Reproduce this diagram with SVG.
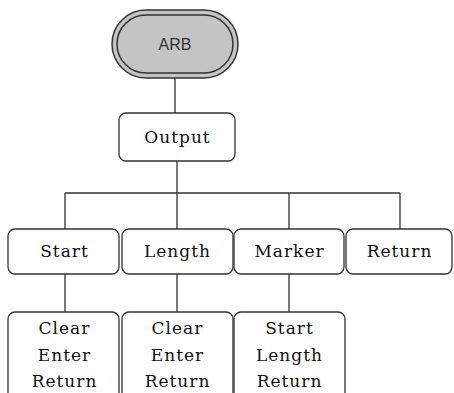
<svg xmlns="http://www.w3.org/2000/svg" width="454" height="393" viewBox="0 0 454 393">
<style>
.box{fill:#fff;stroke:#333;stroke-width:1.3}
.ln{stroke:#333;stroke-width:1.3;fill:none}
.t{font-family:'DejaVu Serif',serif;font-size:17px;letter-spacing:1px;fill:#111;text-anchor:middle}
.s{font-family:'Liberation Sans',Arial,sans-serif;font-size:16px;fill:#333;text-anchor:middle}
</style>
<rect width="454" height="393" fill="#fff"/>
<g id="connectors">
<path class="ln" d="M175 78V113M177 161V193M65 193H400M65 193V229M177 193V229M289 193V229M400 193V229M65 274V312M177 274V312M289 274V312"/>
</g>
<g id="arb">
<rect x="112" y="10" width="126" height="68" rx="34" fill="#c4c4c4" stroke="#333" stroke-width="1.5"/>
<rect x="117" y="15" width="116" height="58" rx="29" fill="none" stroke="#333" stroke-width="1.5"/>
<text class="s" x="175" y="50">ARB</text>
</g>
<g id="output">
<rect class="box" x="119" y="113" width="116" height="48" rx="7"/>
<text class="t" x="177.5" y="143">Output</text>
</g>
<g id="start">
<rect class="box" x="8" y="229" width="111" height="45" rx="7"/>
<text class="t" x="64.5" y="257">Start</text>
</g>
<g id="length">
<rect class="box" x="122" y="229" width="111" height="45" rx="7"/>
<text class="t" x="177.5" y="257">Length</text>
</g>
<g id="marker">
<rect class="box" x="234" y="229" width="110" height="45" rx="7"/>
<text class="t" x="289.5" y="257">Marker</text>
</g>
<g id="return">
<rect class="box" x="346" y="229" width="106" height="45" rx="7"/>
<text class="t" x="399.5" y="257">Return</text>
</g>
<g id="start-sub">
<rect class="box" x="8" y="312" width="111" height="100" rx="7"/>
<text class="t" x="64.5" y="334">Clear</text>
<text class="t" x="64.5" y="361">Enter</text>
<text class="t" x="64.5" y="387">Return</text>
</g>
<g id="length-sub">
<rect class="box" x="122" y="312" width="111" height="100" rx="7"/>
<text class="t" x="177.5" y="334">Clear</text>
<text class="t" x="177.5" y="361">Enter</text>
<text class="t" x="177.5" y="387">Return</text>
</g>
<g id="marker-sub">
<rect class="box" x="234" y="312" width="111" height="100" rx="7"/>
<text class="t" x="289.5" y="334">Start</text>
<text class="t" x="289.5" y="361">Length</text>
<text class="t" x="289.5" y="387">Return</text>
</g>
</svg>
